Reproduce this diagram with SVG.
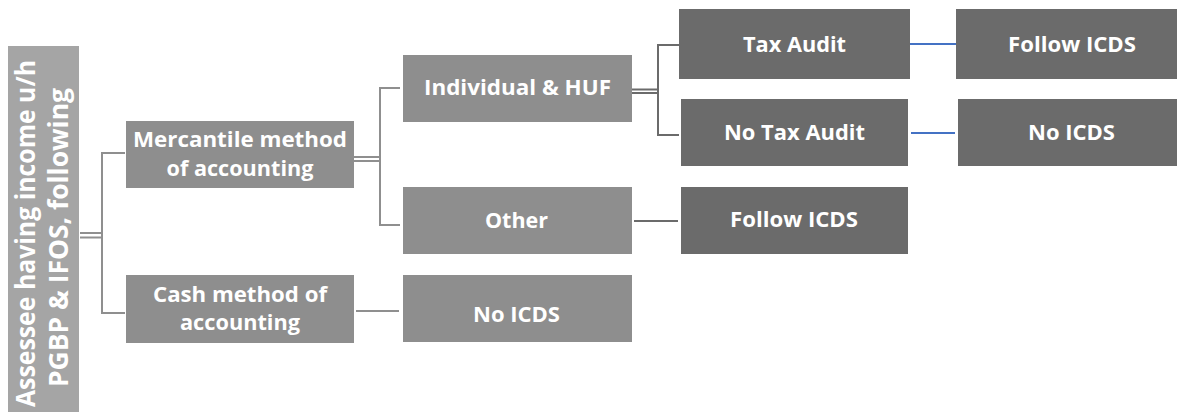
<svg xmlns="http://www.w3.org/2000/svg" width="1177" height="412" viewBox="0 0 1177 412">
<style>
.root{fill:#a5a5a5}
.lt{fill:#8e8e8e}
.dk{fill:#6b6b6b}
text{font-family:"Open Sans","Liberation Sans",sans-serif;font-weight:700;fill:#ffffff;text-anchor:middle}
.t{font-size:21px}
.rt{font-size:26px}
.cl{stroke:#8f8f8f;stroke-width:2;fill:none}
.cd{stroke:#6b6b6b;stroke-width:2;fill:none}
.cb{stroke:#4472c4;stroke-width:2.2;fill:none}
</style>
<g id="connectors">
<line class="cl" x1="80" y1="233" x2="102" y2="233" stroke-width="1.6"/>
<line class="cl" x1="80" y1="237.5" x2="102" y2="237.5" stroke-width="1.6"/>
<polyline class="cl" points="125,153 102,153 102,313 125,313"/>
<line class="cl" x1="354" y1="157" x2="380" y2="157" stroke-width="1.6"/>
<line class="cl" x1="354" y1="161" x2="380" y2="161" stroke-width="1.6"/>
<polyline class="cl" points="400,88 380,88 380,225 400,225"/>
<line class="cl" x1="356" y1="311" x2="399" y2="311"/>
<line class="cd" x1="632" y1="89.5" x2="658" y2="89.5" stroke-width="1.6"/>
<line class="cd" x1="632" y1="93" x2="658" y2="93" stroke-width="1.6"/>
<polyline class="cd" points="679,45 658,45 658,135 679,135"/>
<line class="cd" x1="634" y1="221" x2="678" y2="221"/>
<line class="cb" x1="910" y1="44" x2="956" y2="44"/>
<line class="cb" x1="911" y1="133" x2="955" y2="133"/>
</g>
<g id="root">
<rect class="root" x="8" y="46" width="71" height="370"/>
<text class="rt" transform="translate(35,233.5) rotate(-90)" textLength="347" lengthAdjust="spacingAndGlyphs">Assessee having income u/h</text>
<text class="rt" transform="translate(68,237.5) rotate(-90)" textLength="299" lengthAdjust="spacingAndGlyphs">PGBP &amp; IFOS, following</text>
</g>
<g id="mercantile">
<rect class="lt" x="126" y="121" width="228" height="67"/>
<text class="t" x="240" y="147" textLength="214" lengthAdjust="spacingAndGlyphs">Mercantile method</text>
<text class="t" x="240" y="176" textLength="147" lengthAdjust="spacingAndGlyphs">of accounting</text>
</g>
<g id="cash">
<rect class="lt" x="126" y="275" width="228" height="68"/>
<text class="t" x="240" y="302" textLength="174" lengthAdjust="spacingAndGlyphs">Cash method of</text>
<text class="t" x="240" y="330" textLength="120" lengthAdjust="spacingAndGlyphs">accounting</text>
</g>
<g id="individual">
<rect class="lt" x="403" y="55" width="229" height="67"/>
<text class="t" x="517.5" y="95" textLength="187" lengthAdjust="spacingAndGlyphs">Individual &amp; HUF</text>
</g>
<g id="other">
<rect class="lt" x="403" y="187" width="229" height="67"/>
<text class="t" x="516.5" y="228" textLength="63" lengthAdjust="spacingAndGlyphs">Other</text>
</g>
<g id="noicds-cash">
<rect class="lt" x="403" y="275" width="229" height="67"/>
<text class="t" x="516.5" y="322" textLength="87" lengthAdjust="spacingAndGlyphs">No ICDS</text>
</g>
<g id="taxaudit">
<rect class="dk" x="679" y="9" width="231" height="70"/>
<text class="t" x="794.5" y="52" textLength="103" lengthAdjust="spacingAndGlyphs">Tax Audit</text>
</g>
<g id="notaxaudit">
<rect class="dk" x="681" y="99" width="227" height="67"/>
<text class="t" x="794.5" y="140" textLength="141" lengthAdjust="spacingAndGlyphs">No Tax Audit</text>
</g>
<g id="follow-other">
<rect class="dk" x="681" y="187" width="227" height="67"/>
<text class="t" x="794" y="227" textLength="128" lengthAdjust="spacingAndGlyphs">Follow ICDS</text>
</g>
<g id="follow-taxaudit">
<rect class="dk" x="956" y="9" width="232" height="70"/>
<text class="t" x="1072" y="52" textLength="128" lengthAdjust="spacingAndGlyphs">Follow ICDS</text>
</g>
<g id="noicds-notax">
<rect class="dk" x="958" y="99" width="227" height="67"/>
<text class="t" x="1071.5" y="140" textLength="87" lengthAdjust="spacingAndGlyphs">No ICDS</text>
</g>
</svg>
